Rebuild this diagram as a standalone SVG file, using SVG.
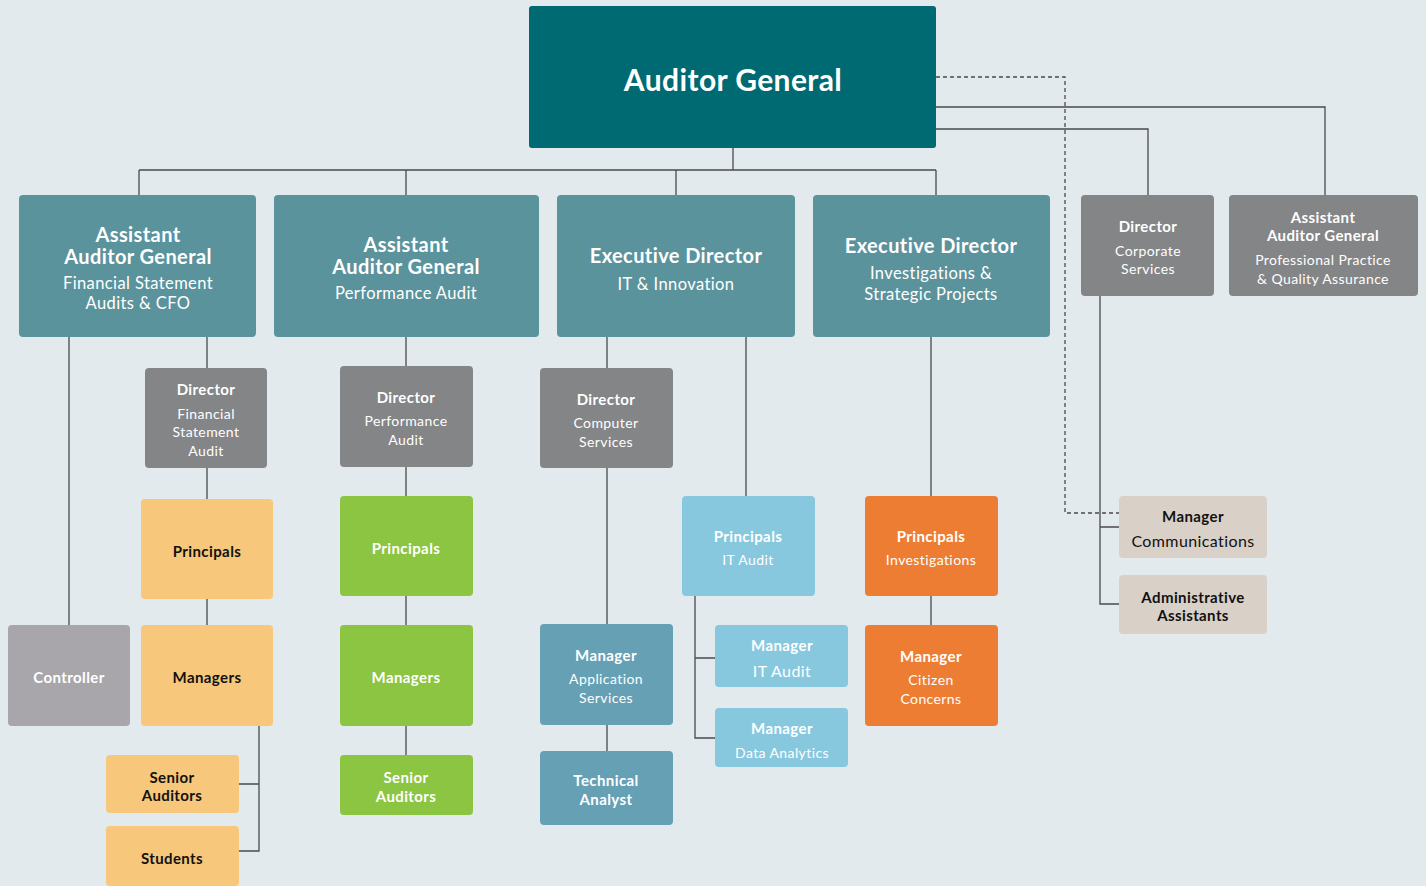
<svg xmlns="http://www.w3.org/2000/svg" width="1426" height="886" viewBox="0 0 1426 886">
<style>
.bg{fill:#e3eaed}
.top{fill:#006a72}
.teal{fill:#5b939d}
.gray{fill:#848587}
.lgray{fill:#a8a6aa}
.yel{fill:#f7c77b}
.grn{fill:#8cc541}
.blu{fill:#65a0b5}
.lblu{fill:#87c8df}
.org{fill:#ee7d34}
.tan{fill:#d9d0c7}
text{font-family:Lato,"Open Sans","Liberation Sans",sans-serif;text-anchor:middle;letter-spacing:0.4px}
.w{fill:#ffffff}
.k{fill:#111111}
.b{font-weight:bold}
.ln{fill:none;stroke:#4a4a4a;stroke-width:1.3}
.dash{fill:none;stroke:#4a4a4a;stroke-width:1.3;stroke-dasharray:4 3}
</style>
<rect class="bg" x="0" y="0" width="1426" height="886"/>
<g id="connectors">
<path class="ln" d="M733 148V170M139 170H936M139 170V195M406 170V195M676 170V195M936 170V195"/>
<path class="ln" d="M936 107H1325V195M936 129H1148V195"/>
<path class="dash" d="M936 77H1065V513H1119"/>
<path class="ln" d="M1100 296V604H1119M1100 527H1119"/>
<path class="ln" d="M69 337V625M207 337V368M207 468V499M207 599V625M259 726V851H239M239 784H259"/>
<path class="ln" d="M406 337V366M406 467V496M406 596V625M406 726V755"/>
<path class="ln" d="M607 337V368M607 468V624M607 725V751M746 337V496M695 596V738H715M695 658H715"/>
<path class="ln" d="M931 337V496M931 596V625"/>
</g>
<g id="auditor-general"><rect class="top" x="529" y="6" width="407" height="142" rx="3"/><text class="w b" x="733" y="91" font-size="30">Auditor General</text></g>
<g id="aag-fs"><rect class="teal" x="19" y="195" width="237" height="142" rx="4"/><text class="w b" x="138" y="242" font-size="20">Assistant</text><text class="w b" x="138" y="264" font-size="20">Auditor General</text><text class="w" x="138" y="289" font-size="16.5">Financial Statement</text><text class="w" x="138" y="309" font-size="16.5">Audits &amp; CFO</text></g>
<g id="aag-pa"><rect class="teal" x="274" y="195" width="265" height="142" rx="4"/><text class="w b" x="406" y="252" font-size="20">Assistant</text><text class="w b" x="406" y="274" font-size="20">Auditor General</text><text class="w" x="406" y="299" font-size="16.5">Performance Audit</text></g>
<g id="ed-it"><rect class="teal" x="557" y="195" width="238" height="142" rx="4"/><text class="w b" x="676" y="263" font-size="20">Executive Director</text><text class="w" x="676" y="290" font-size="16.5">IT &amp; Innovation</text></g>
<g id="ed-inv"><rect class="teal" x="813" y="195" width="237" height="142" rx="4"/><text class="w b" x="931" y="253" font-size="20">Executive Director</text><text class="w" x="931" y="279" font-size="16.5">Investigations &amp;</text><text class="w" x="931" y="300" font-size="16.5">Strategic Projects</text></g>
<g id="dir-cs"><rect class="gray" x="1081" y="195" width="133" height="101" rx="4"/><text class="w b" x="1148" y="232" font-size="15">Director</text><text class="w" x="1148" y="256" font-size="14">Corporate</text><text class="w" x="1148" y="274" font-size="14">Services</text></g>
<g id="aag-pp"><rect class="gray" x="1229" y="195" width="189" height="101" rx="4"/><text class="w b" x="1323" y="223" font-size="15">Assistant</text><text class="w b" x="1323" y="241" font-size="15">Auditor General</text><text class="w" x="1323" y="265" font-size="14">Professional Practice</text><text class="w" x="1323" y="284" font-size="14">&amp; Quality Assurance</text></g>
<g id="mgr-comm"><rect class="tan" x="1119" y="496" width="148" height="62" rx="4"/><text class="k b" x="1193" y="522" font-size="15">Manager</text><text class="k" x="1193" y="547" font-size="16" fill="#222">Communications</text></g>
<g id="admin"><rect class="tan" x="1119" y="575" width="148" height="59" rx="4"/><text class="k b" x="1193" y="603" font-size="15">Administrative</text><text class="k b" x="1193" y="621" font-size="15">Assistants</text></g>
<g id="dir-fsa"><rect class="gray" x="145" y="368" width="122" height="100" rx="4"/><text class="w b" x="206" y="395" font-size="15">Director</text><text class="w" x="206" y="419" font-size="14">Financial</text><text class="w" x="206" y="437" font-size="14">Statement</text><text class="w" x="206" y="456" font-size="14">Audit</text></g>
<g id="dir-pa"><rect class="gray" x="340" y="366" width="133" height="101" rx="4"/><text class="w b" x="406" y="403" font-size="15">Director</text><text class="w" x="406" y="426" font-size="14">Performance</text><text class="w" x="406" y="445" font-size="14">Audit</text></g>
<g id="dir-comp"><rect class="gray" x="540" y="368" width="133" height="100" rx="4"/><text class="w b" x="606" y="405" font-size="15">Director</text><text class="w" x="606" y="428" font-size="14">Computer</text><text class="w" x="606" y="447" font-size="14">Services</text></g>
<g id="prin-fs"><rect class="yel" x="141" y="499" width="132" height="100" rx="4"/><text class="k b" x="207" y="557" font-size="15">Principals</text></g>
<g id="prin-pa"><rect class="grn" x="340" y="496" width="133" height="100" rx="4"/><text class="w b" x="406" y="554" font-size="15">Principals</text></g>
<g id="prin-it"><rect class="lblu" x="682" y="496" width="133" height="100" rx="4"/><text class="w b" x="748" y="542" font-size="15">Principals</text><text class="w" x="748" y="565" font-size="14">IT Audit</text></g>
<g id="prin-inv"><rect class="org" x="865" y="496" width="133" height="100" rx="4"/><text class="w b" x="931" y="542" font-size="15">Principals</text><text class="w" x="931" y="565" font-size="14">Investigations</text></g>
<g id="controller"><rect class="lgray" x="8" y="625" width="122" height="101" rx="4"/><text class="w b" x="69" y="683" font-size="15">Controller</text></g>
<g id="mgrs-fs"><rect class="yel" x="141" y="625" width="132" height="101" rx="4"/><text class="k b" x="207" y="683" font-size="15">Managers</text></g>
<g id="mgrs-pa"><rect class="grn" x="340" y="625" width="133" height="101" rx="4"/><text class="w b" x="406" y="683" font-size="15">Managers</text></g>
<g id="mgr-app"><rect class="blu" x="540" y="624" width="133" height="101" rx="4"/><text class="w b" x="606" y="661" font-size="15">Manager</text><text class="w" x="606" y="684" font-size="14">Application</text><text class="w" x="606" y="703" font-size="14">Services</text></g>
<g id="mgr-it"><rect class="lblu" x="715" y="625" width="133" height="62" rx="4"/><text class="w b" x="782" y="651" font-size="15">Manager</text><text class="w" x="782" y="677" font-size="16">IT Audit</text></g>
<g id="mgr-da"><rect class="lblu" x="715" y="708" width="133" height="59" rx="4"/><text class="w b" x="782" y="734" font-size="15">Manager</text><text class="w" x="782" y="758" font-size="14">Data Analytics</text></g>
<g id="mgr-cit"><rect class="org" x="865" y="625" width="133" height="101" rx="4"/><text class="w b" x="931" y="662" font-size="15">Manager</text><text class="w" x="931" y="685" font-size="14">Citizen</text><text class="w" x="931" y="704" font-size="14">Concerns</text></g>
<g id="sr-fs"><rect class="yel" x="106" y="755" width="133" height="58" rx="4"/><text class="k b" x="172" y="783" font-size="15">Senior</text><text class="k b" x="172" y="801" font-size="15">Auditors</text></g>
<g id="students"><rect class="yel" x="106" y="826" width="133" height="60" rx="4"/><text class="k b" x="172" y="864" font-size="15">Students</text></g>
<g id="sr-pa"><rect class="grn" x="340" y="755" width="133" height="60" rx="4"/><text class="w b" x="406" y="783" font-size="15">Senior</text><text class="w b" x="406" y="802" font-size="15">Auditors</text></g>
<g id="tech"><rect class="blu" x="540" y="751" width="133" height="74" rx="4"/><text class="w b" x="606" y="786" font-size="15">Technical</text><text class="w b" x="606" y="805" font-size="15">Analyst</text></g>
</svg>
